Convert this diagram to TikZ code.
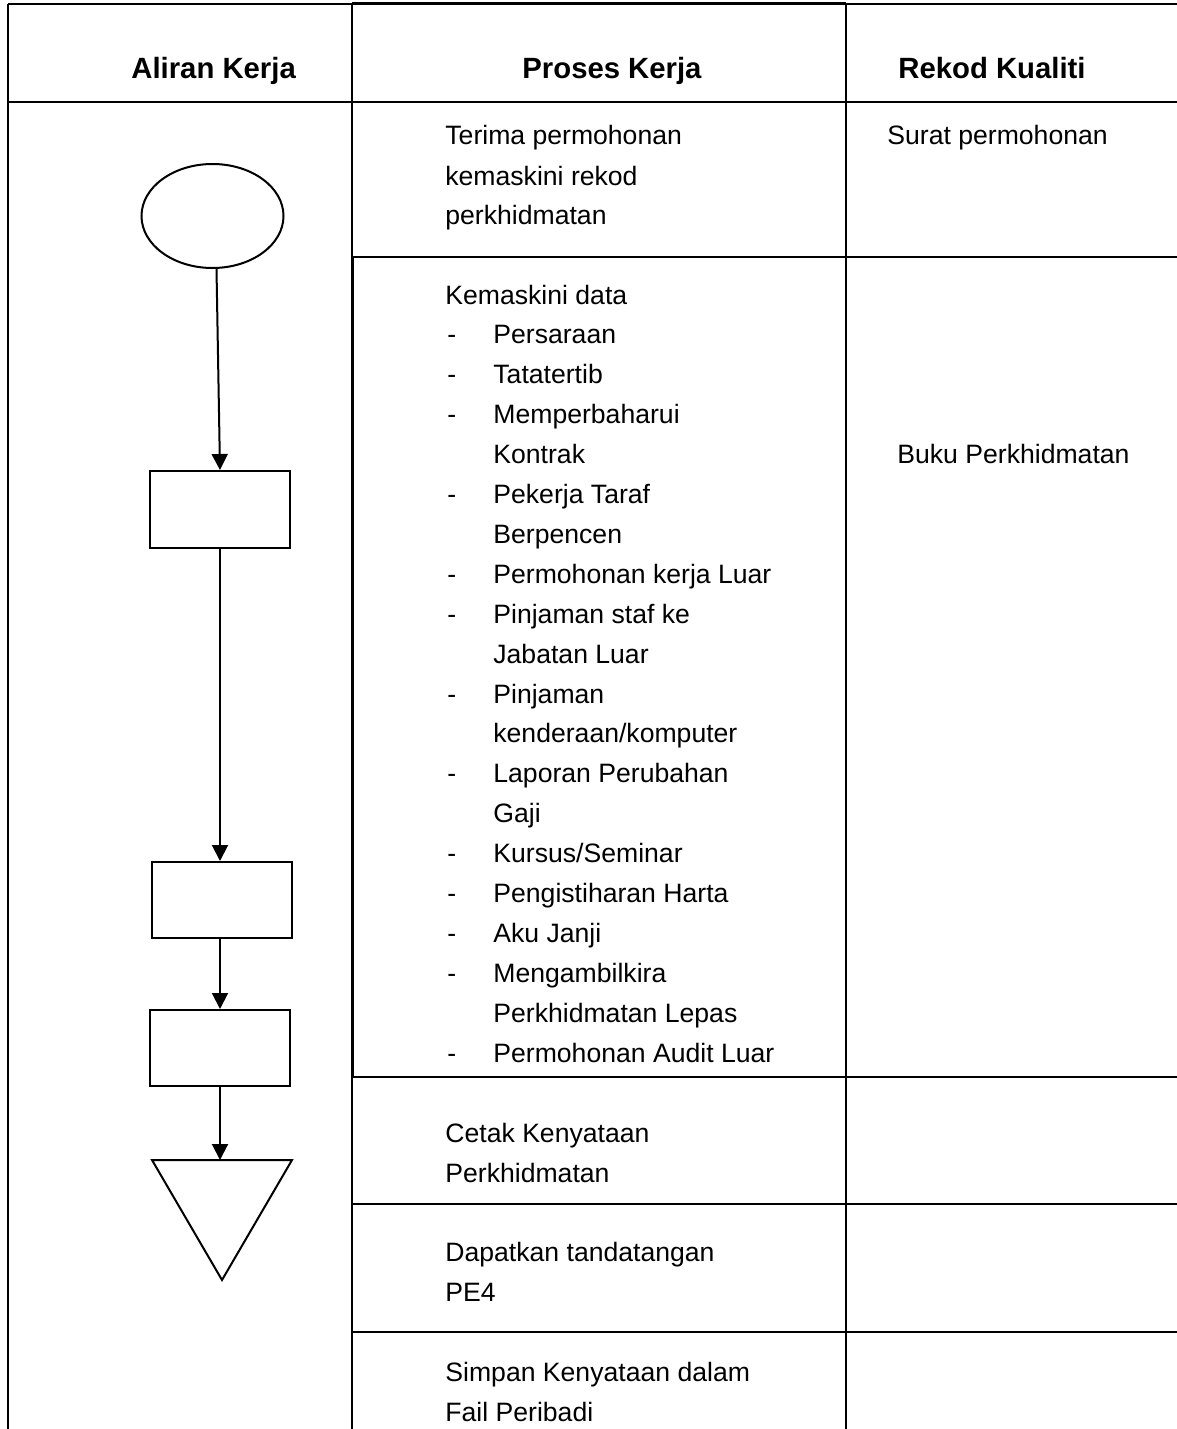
\documentclass[tikz,border=0pt]{standalone}
\usepackage{fontspec}
\setmainfont{Liberation Sans}
\usetikzlibrary{arrows.meta,shapes.geometric}
\begin{document}
\begin{tikzpicture}[x=0.5pt,y=-0.5pt,
  grid/.style={line width=1pt},
  gridthick/.style={line width=1.5pt},
  shp/.style={draw,line width=1pt,inner sep=0pt},
  arr/.style={line width=1pt,-{Triangle[length=8pt,width=8pt]}},
  txt/.style={anchor=base west,inner sep=0pt,font=\fontsize{13.3}{16}\selectfont},
  hdr/.style={anchor=base west,inner sep=0pt,font=\fontsize{14.65}{17}\selectfont\bfseries}]
\useasboundingbox (0,0) rectangle (1177,1429);
% table
\draw[grid] (8,4) -- (1177,4);
\draw[gridthick] (352,4) -- (846,4);
\draw[grid] (8,4) -- (8,1429);
\draw[grid] (352,4) -- (352,1429);
\draw[gridthick] (352,257) -- (352,1077);
\draw[grid] (846,4) -- (846,1429);
\draw[grid] (8,102) -- (1177,102);
\draw[grid] (352,257) -- (1177,257);
\draw[grid] (352,1077) -- (1177,1077);
\draw[grid] (352,1204) -- (1177,1204);
\draw[grid] (352,1332) -- (1177,1332);
% headers
\node[hdr] (h1) at (131,79) {Aliran Kerja};
\node[hdr] (h2) at (522,79) {Proses Kerja};
\node[hdr] (h3) at (898,79) {Rekod Kualiti};
% flow shapes
\node[shp,ellipse,minimum width=71pt,minimum height=52pt] (e) at (212.5,216) {};
\node[shp,rectangle,minimum width=70pt,minimum height=38.5pt] (r1) at (220,509.5) {};
\node[shp,rectangle,minimum width=70pt,minimum height=38pt] (r2) at (222,900) {};
\node[shp,rectangle,minimum width=70pt,minimum height=38pt] (r3) at (220,1048) {};
\coordinate (tl) at (152,1160);
\coordinate (tr) at (292,1160);
\coordinate (tb) at (222,1280);
\coordinate (ttop) at (220,1160);
\draw[line width=1pt,line join=miter] (tl) -- (tr) -- (tb) -- cycle;
\draw[arr] ([xshift=2pt]e.south) -- (r1.north);
\draw[arr] (r1.south) -- (r1.south |- r2.north);
\draw[arr] (r1.south |- r2.south) -- (r3.north);
\draw[arr] (r3.south) -- (ttop);
% process texts
\node[txt] (p1a) at (445,145) {Terima permohonan};
\node[txt] (p1b) at (445,185) {kemaskini rekod};
\node[txt] (p1c) at (445,224) {perkhidmatan};
\node[txt] (q1) at (887,145) {Surat permohonan};
\node[txt] (p2) at (445,304) {Kemaskini data};
\foreach \i/\d/\t in {1/-/{Persaraan}, 2/-/{Tatatertib}, 3/-/{Memperbaharui}, 4//{Kontrak},
  5/-/{Pekerja Taraf}, 6//{Berpencen}, 7/-/{Permohonan kerja Luar}, 8/-/{Pinjaman staf ke},
  9//{Jabatan Luar}, 10/-/{Pinjaman}, 11//{kenderaan/komputer}, 12/-/{Laporan Perubahan},
  13//{Gaji}, 14/-/{Kursus/Seminar}, 15/-/{Pengistiharan Harta}, 16/-/{Aku Janji},
  17/-/{Mengambilkira}, 18//{Perkhidmatan Lepas}, 19/-/{Permohonan Audit Luar}}{
  \node[txt] (d\i) at (447,{304+39.9*\i}) {\d};
  \node[txt] (it\i) at (493,{304+39.9*\i}) {\t};
}
\node[txt] (q2) at (897,463) {Buku Perkhidmatan};
\node[txt] (p3a) at (445,1142) {Cetak Kenyataan};
\node[txt] (p3b) at (445,1182) {Perkhidmatan};
\node[txt] (p4a) at (445,1261) {Dapatkan tandatangan};
\node[txt] (p4b) at (445,1301) {PE4};
\node[txt] (p5a) at (445,1381) {Simpan Kenyataan dalam};
\node[txt] (p5b) at (445,1421) {Fail Peribadi};
\end{tikzpicture}
\end{document}
